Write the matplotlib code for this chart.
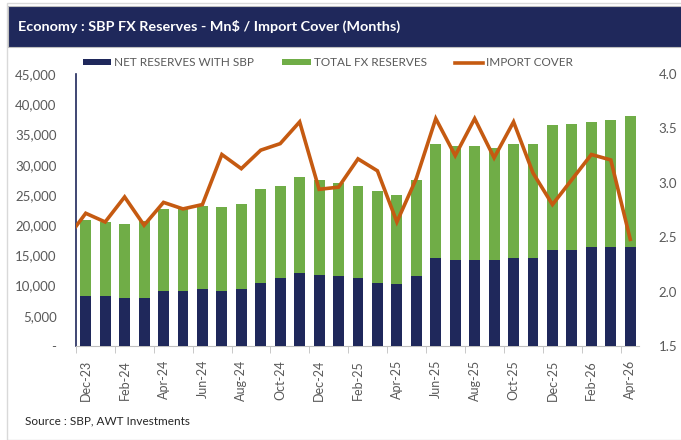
import numpy as np
import matplotlib
matplotlib.use("Agg")
import matplotlib.pyplot as plt
from matplotlib.patches import Rectangle
from matplotlib.ticker import FuncFormatter

plt.rcParams['font.family'] = ['Lato', 'DejaVu Sans']

##### DATA ######
months = ['Dec-23', 'Jan-24', 'Feb-24', 'Mar-24', 'Apr-24', 'May-24', 'Jun-24', 'Jul-24',
          'Aug-24', 'Sep-24', 'Oct-24', 'Nov-24', 'Dec-24', 'Jan-25', 'Feb-25', 'Mar-25',
          'Apr-25', 'May-25', 'Jun-25', 'Jul-25', 'Aug-25', 'Sep-25', 'Oct-25', 'Nov-25',
          'Dec-25', 'Jan-26', 'Feb-26', 'Mar-26', 'Apr-26']

# total FX reserves (Mn$)
total_fx = [20800, 20500, 20200, 20700, 22700, 22800, 23200, 23000, 23500, 25900,
            26500, 28000, 27400, 26900, 26500, 25600, 25000, 27400, 33400, 33100,
            33100, 32800, 33400, 33400, 36500, 36800, 37100, 37400, 38000]

# net reserves with SBP (Mn$)
net_sbp = [8200, 8200, 7900, 7900, 9100, 9100, 9400, 9100, 9400, 10500,
           11200, 12000, 11750, 11500, 11200, 10500, 10300, 11500, 14500, 14200,
           14200, 14200, 14500, 14500, 15950, 15950, 16300, 16300, 16300]

# import cover (months) - first value sits on the left edge of the chart
import_cover = [2.60, 2.72, 2.64, 2.87, 2.61, 2.82, 2.76, 2.80, 3.26, 3.13,
                3.30, 3.36, 3.56, 2.94, 2.96, 3.22, 3.11, 2.64, 3.04, 3.59,
                3.25, 3.59, 3.23, 3.56, 3.09, 2.80, 3.03, 3.26, 3.21, 2.48]

# colours
NAVY = '#1f285b'
GREEN = '#70ad47'
ORANGE = '#c55a11'
GREY = '#595959'

W, H = 681, 440
fig = plt.figure(figsize=(W / 100, H / 100), dpi=100)

# outer frame + title bar
fig.patches.append(Rectangle((7 / W, 0), 1, 1 - 3 / H, transform=fig.transFigure,
                             facecolor='none', edgecolor='#d9d9d9', lw=1, zorder=-1))
fig.patches.append(Rectangle((8 / W, 1 - 47 / H), 1, 41 / H, transform=fig.transFigure,
                             facecolor=NAVY, edgecolor='#bfbfbf', lw=0.8, zorder=1))
fig.text(18 / W, 1 - 26 / H, 'Economy : SBP FX Reserves - Mn$ / Import Cover (Months)',
         color='white', fontsize=10.4, fontweight='bold', va='center', ha='left')

ax = fig.add_axes([76 / W, 94 / H, 563 / W, 272 / H])
ax2 = ax.twinx()
ax.set_zorder(ax2.get_zorder() - 1)
ax.patch.set_visible(False)

x = np.arange(len(months))
b1 = ax.bar(x, total_fx, width=0.56, color=GREEN, label='TOTAL FX RESERVES', zorder=2)
b2 = ax.bar(x, net_sbp, width=0.56, color=NAVY, label='NET RESERVES WITH SBP', zorder=3)

ax.set_xlim(-0.5, len(months) - 0.55)
ax.set_ylim(0, 45000)
ax.set_yticks(np.arange(0, 45001, 5000))
ax.yaxis.set_major_formatter(FuncFormatter(lambda v, p: '-' if v == 0 else f'{v:,.0f}'))
ax.tick_params(axis='y', length=0, labelsize=9.5, labelcolor=GREY, pad=14)

# labels every 2nd month, small tick marks between the categories
ax.set_xticks(x[::2])
ax.set_xticklabels(months[::2], rotation=90, fontsize=9, color=GREY)
ax.tick_params(axis='x', which='major', length=0, pad=10)
ax.set_xticks(x[::2] - 0.5, minor=True)
ax.tick_params(axis='x', which='minor', length=5, color='#bfbfbf')

for s in ['top', 'right']:
    ax.spines[s].set_visible(False)
ax.spines['left'].set_color(NAVY)
ax.spines['left'].set_linewidth(1.2)
ax.spines['bottom'].set_color('#bfbfbf')

# import cover line, first point starts at the left edge
line_x = np.r_[ax.get_xlim()[0], x]
l1, = ax2.plot(line_x, import_cover, color=ORANGE, lw=2.6, label='IMPORT COVER',
               solid_joinstyle='miter')
ax2.set_ylim(1.5, 4.0)
ax2.set_yticks(np.arange(1.5, 4.01, 0.5))
ax2.yaxis.set_major_formatter(FuncFormatter(lambda v, p: f'{v:.1f}'))
ax2.tick_params(axis='y', length=0, labelsize=9.5, labelcolor=GREY, pad=14)
for s in ax2.spines.values():
    s.set_visible(False)

fig.legend(handles=[b2, b1, l1], loc='center left', bbox_to_anchor=(77 / W, 1 - 63 / H),
           ncol=3, frameon=False, fontsize=8.5, labelcolor=GREY, handlelength=2.4,
           handleheight=0.45, handletextpad=0.25, columnspacing=2.4, borderpad=0)

fig.text(25 / W, 1 - 421 / H, 'Source : SBP, AWT Investments', fontsize=8.5,
         color='#262626', va='center', ha='left')

fig.savefig('out.png', dpi=100)
